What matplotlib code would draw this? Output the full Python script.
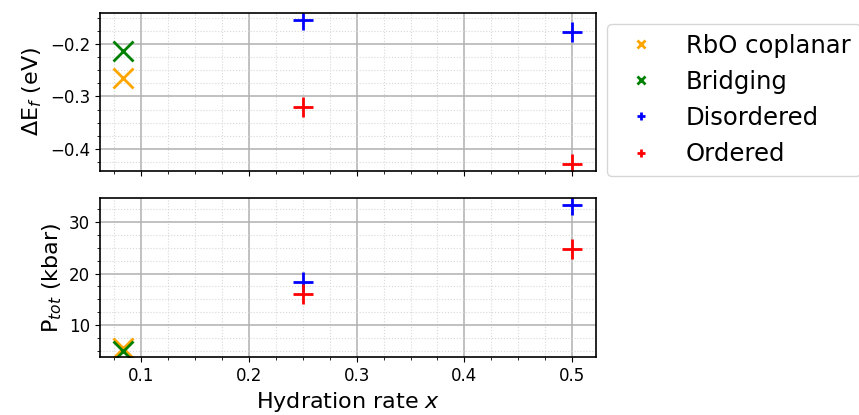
import matplotlib
matplotlib.use("Agg")
import matplotlib.pyplot as plt
from matplotlib.ticker import AutoMinorLocator

# hydration rates
X_LOW = [1 / 12]
X_HIGH = [0.25, 0.5]

# formation energies (eV)
E_RBO = [-0.265]
E_BRIDGE = [-0.213]
E_DISORD = [-0.154, -0.178]
E_ORD = [-0.320, -0.428]

# total pressure (kbar)
P_RBO = [5.6]
P_BRIDGE = [5.0]
P_DISORD = [18.3, 33.3]
P_ORD = [16.1, 24.8]

LABELS = ["RbO coplanar", "Bridging", "Disordered", "Ordered"]
COLORS = ["orange", "green", "blue", "red"]

fig = plt.figure(figsize=(8.59, 4.15), dpi=100)
ax1 = fig.add_axes([0.1164, 0.588, 0.5774, 0.3807])
ax2 = fig.add_axes([0.1164, 0.1398, 0.5774, 0.383], sharex=ax1)

kw = dict(ls="none", ms=15, mew=2)
for ax, ys in ((ax1, (E_RBO, E_BRIDGE, E_DISORD, E_ORD)),
               (ax2, (P_RBO, P_BRIDGE, P_DISORD, P_ORD))):
    ax.plot(X_LOW, ys[0], "x", color=COLORS[0], label=LABELS[0], **kw)
    ax.plot(X_LOW, ys[1], "x", color=COLORS[1], label=LABELS[1], **kw)
    ax.plot(X_HIGH, ys[2], "+", color=COLORS[2], label=LABELS[2], **kw)
    ax.plot(X_HIGH, ys[3], "+", color=COLORS[3], label=LABELS[3], **kw)
    ax.xaxis.set_minor_locator(AutoMinorLocator(4))
    ax.yaxis.set_minor_locator(AutoMinorLocator(4))
    ax.grid(which="major", color="#b0b0b0", lw=1.1)
    ax.grid(which="minor", color="#d8d8d8", lw=0.8, ls=":")
    ax.tick_params(labelsize=12)
    for s in ax.spines.values():
        s.set_linewidth(1.2)

ax1.set_xlim(0.062, 0.522)
ax1.set_ylim(-0.442, -0.141)
ax1.set_yticks([-0.4, -0.3, -0.2])
ax2.set_ylim(3.8, 34.66)
ax2.set_yticks([10, 20, 30])
ax1.tick_params(labelbottom=False)

ax1.set_ylabel(r"$\Delta$E$_f$ (eV)", fontsize=16)
ax2.set_ylabel(r"P$_{tot}$ (kbar)", fontsize=16)
ax2.set_xlabel(r"Hydration rate $x$", fontsize=16)

ax1.legend(loc="upper left", bbox_to_anchor=(1.0, 1.0), fontsize=17.5,
           markerscale=0.4, borderaxespad=0.45, labelspacing=0.5,
           handletextpad=0.85)

fig.savefig("out.png", dpi=100)
